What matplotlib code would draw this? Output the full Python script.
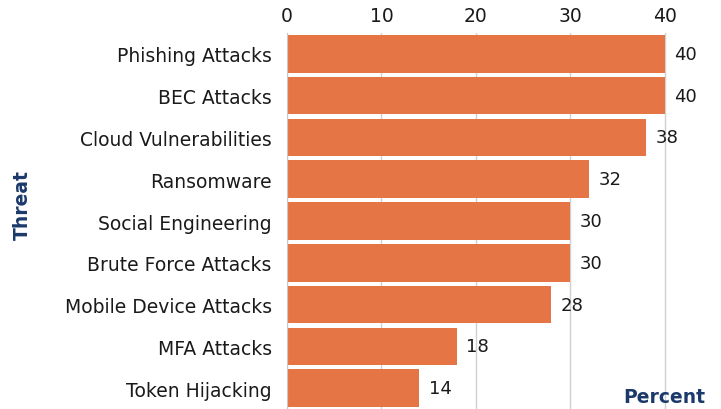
import matplotlib.pyplot as plt
import numpy as np

# Data
threats = ['Phishing Attacks', 'BEC Attacks', 'Cloud Vulnerabilities', 'Ransomware',
           'Social Engineering', 'Brute Force Attacks', 'Mobile Device Attacks',
           'MFA Attacks', 'Token Hijacking']
percents = [40, 40, 38, 32, 30, 30, 28, 18, 14]
x_ticks = [0, 10, 20, 30, 40]

bar_color = '#E57545'
navy = '#1B3A6B'
text_color = '#1a1a1a'

plt.rcParams['font.family'] = ['DejaVu Sans']

fig = plt.figure(figsize=(7.21, 4.10), dpi=100)
ax = fig.add_axes([287 / 721, 0.0, (712 - 287) / 721, (410 - 34) / 410])

y = np.arange(len(threats))
ax.barh(y, percents, height=0.9, color=bar_color, zorder=2)
ax.set_ylim(len(threats) - 0.5, -0.5)
ax.set_xlim(0, 45)

# value labels next to each bar
for yi, v in zip(y, percents):
    ax.text(v + 1.0, yi, str(v), va='center', ha='left', fontsize=13, color=text_color)

ax.xaxis.tick_top()
ax.set_xticks(x_ticks)
ax.set_xticklabels([str(t) for t in x_ticks], fontsize=13.5, color=text_color)
ax.set_yticks(y)
ax.set_yticklabels(threats, fontsize=13.5, color=text_color)
ax.tick_params(axis='both', length=0)
ax.tick_params(axis='y', pad=11)
ax.tick_params(axis='x', pad=6)

ax.grid(axis='x', color='#d0d0d0', linewidth=1, zorder=0)
for s in ['top', 'right', 'bottom']:
    ax.spines[s].set_visible(False)
ax.spines['left'].set_color('#c8c8c8')

fig.text(22 / 721, 1 - 205 / 410, 'Threat', rotation=90, ha='center', va='center',
         fontsize=13.5, fontweight='bold', color=navy)
fig.text(705 / 721, 1 - 398 / 410, 'Percent', ha='right', va='center',
         fontsize=13.5, fontweight='bold', color=navy)

fig.savefig('out.png', dpi=100)
